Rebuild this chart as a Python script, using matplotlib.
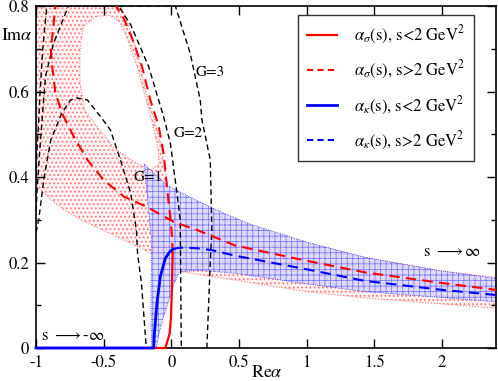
import numpy as np
import matplotlib
matplotlib.use('Agg')
import matplotlib.pyplot as plt
from matplotlib.path import Path
from matplotlib.patches import PathPatch
from matplotlib.lines import Line2D
from matplotlib.ticker import MultipleLocator, FuncFormatter

plt.rcParams['font.family'] = ['STIXGeneral', 'DejaVu Sans']
plt.rcParams['mathtext.fontset'] = 'stix'
plt.rcParams['axes.unicode_minus'] = False

# ---------------- data ----------------
# alpha_sigma, s < 2 GeV^2 (solid red)
sig_lo_re = [-1.0, -0.044, -0.012, -0.002, 0.005, 0.010]
sig_lo_im = [0.0, 0.0, 0.034, 0.073, 0.143, 0.221]
# alpha_sigma, s > 2 GeV^2 (dashed red)
sig_hi_re = [0.010, 0.005, -0.005, -0.027, -0.057, -0.094, -0.155, -0.216, -0.29, -0.35, -0.41,
             -0.62, -0.80, -0.856, -0.89, -0.88, -0.856, -0.807, -0.72, -0.62, -0.50, -0.35, -0.18,
             0.017, 0.19, 0.47, 0.97, 1.43, 2.0, 2.4]
sig_hi_im = [0.221, 0.26, 0.30, 0.362, 0.455, 0.52, 0.58, 0.658, 0.725, 0.77, 0.80,
             0.95, 0.95, 0.80, 0.70, 0.658, 0.596, 0.549, 0.494, 0.44, 0.393, 0.354, 0.33,
             0.295, 0.276, 0.240, 0.206, 0.177, 0.152, 0.136]
# alpha_kappa, s < 2 GeV^2 (solid blue)
kap_lo_re = [-1.0, -0.13, -0.125, -0.106, -0.081, -0.044, -0.012, 0.012]
kap_lo_im = [0.0, 0.0, 0.034, 0.105, 0.167, 0.21, 0.225, 0.231]
# alpha_kappa, s > 2 GeV^2 (dashed blue)
kap_hi_re = [0.012, 0.05, 0.10, 0.20, 0.30, 0.47, 0.97, 1.43, 2.0, 2.4]
kap_hi_im = [0.231, 0.234, 0.235, 0.233, 0.229, 0.216, 0.186, 0.157, 0.136, 0.124]

# red (alpha_sigma) uncertainty band: outer boundary and inner hole
sig_band_re = [-1.0, -1.0, -0.37, -0.31, -0.25, -0.19, -0.13, -0.08, -0.04, -0.01, 0.005,
               0.2, 0.47, 1.0, 1.43, 2.0, 2.4, 2.4, 2.0, 1.43, 1.0, 0.47, 0.2, 0.05,
               -0.05, -0.155, -0.3, -0.5, -0.67, -0.8, -0.9]
sig_band_im = [0.38, 0.80, 0.80, 0.75, 0.69, 0.60, 0.54, 0.48, 0.41, 0.34, 0.323,
               0.33, 0.295, 0.245, 0.212, 0.18, 0.165, 0.093, 0.103, 0.117, 0.132, 0.159, 0.172, 0.18,
               0.20, 0.222, 0.245, 0.275, 0.30, 0.325, 0.35]
sig_hole_re = [-0.55, -0.45, -0.38, -0.32, -0.25, -0.19, -0.135, -0.10, -0.09, -0.155, -0.30,
               -0.43, -0.55, -0.64, -0.675, -0.675, -0.65]
sig_hole_im = [0.776, 0.778, 0.762, 0.72, 0.655, 0.585, 0.52, 0.47, 0.43, 0.416, 0.44,
               0.471, 0.518, 0.557, 0.62, 0.697, 0.752]

# blue (alpha_kappa) uncertainty band
kap_band_re = [-0.20, -0.03, 0.19, 0.39, 0.58, 1.0, 1.43, 2.0, 2.4, 2.4, 2.0, 1.43, 1.0, 0.47,
               0.19, 0.06, 0.02, -0.02, -0.06, -0.09, -0.11, -0.145, -0.15, -0.15, -0.145, -0.17]
kap_band_im = [0.43, 0.38, 0.345, 0.315, 0.29, 0.248, 0.212, 0.18, 0.163, 0.108, 0.118, 0.132, 0.15, 0.175,
               0.182, 0.178, 0.15, 0.11, 0.07, 0.035, 0.0, 0.0, 0.05, 0.15, 0.25, 0.33]

# contours G = 1, 2, 3 (black dashed)
g1_re = [-1.0, -0.98, -0.94, -0.89, -0.81, -0.745, -0.70, -0.62, -0.52, -0.45, -0.376, -0.30, -0.258, -0.249, -0.22, -0.185]
g1_im = [0.27, 0.30, 0.40, 0.487, 0.549, 0.58, 0.585, 0.58, 0.54, 0.51, 0.44, 0.362, 0.276, 0.22, 0.15, 0.0]
g2_re = [-1.0, -0.99, -0.975, -0.955, -0.93, -0.87, -0.76, -0.76, -0.39, -0.30, -0.167, -0.057, -0.007, 0.042, 0.066, 0.074]
g2_im = [0.32, 0.38, 0.45, 0.533, 0.635, 0.713, 0.80, 0.80, 0.80, 0.756, 0.658, 0.541, 0.479, 0.362, 0.30, 0.0]
g3_re = [-1.0, -0.995, -0.98, -0.97, -0.95, -0.92, 0.03, 0.14, 0.214, 0.227, 0.288, 0.30, 0.288, 0.263]
g3_im = [0.40, 0.45, 0.533, 0.60, 0.70, 0.80, 0.80, 0.689, 0.58, 0.533, 0.44, 0.276, 0.20, 0.0]

x_ticks = [-1, -0.5, 0, 0.5, 1, 1.5, 2]
y_ticks = [0, 0.2, 0.4, 0.6, 0.8]

legend_labels = [r'$\alpha_\sigma$(s), s<2 GeV$^2$', r'$\alpha_\sigma$(s), s>2 GeV$^2$',
                 r'$\alpha_\kappa$(s), s<2 GeV$^2$', r'$\alpha_\kappa$(s), s>2 GeV$^2$']

# ---------------- figure ----------------
fig = plt.figure(figsize=(4.98, 3.81), dpi=100)
ax = fig.add_axes([36 / 498, 1 - 348 / 381, 460 / 498, 342 / 381])
ax.set_xlim(-1, 2.4)
ax.set_ylim(0, 0.8)

red = '#ff0000'
blue = '#0000ff'
pink = '#ff7a7a'

# red band with hole
outer = list(zip(sig_band_re, sig_band_im))
hole = list(zip(sig_hole_re, sig_hole_im))[::-1]
verts = outer + [outer[0]] + hole + [hole[0]]
codes = ([Path.MOVETO] + [Path.LINETO] * (len(outer) - 1) + [Path.CLOSEPOLY] +
         [Path.MOVETO] + [Path.LINETO] * (len(hole) - 1) + [Path.CLOSEPOLY])
plt.rcParams['hatch.linewidth'] = 0.8
rp = PathPatch(Path(verts, codes), facecolor='#fff2f2', edgecolor=pink, hatch='....', lw=0, zorder=1)
ax.add_patch(rp)
ax.plot(sig_band_re + [sig_band_re[0]], sig_band_im + [sig_band_im[0]], ':', color=pink, lw=0.8, zorder=1.5)
ax.plot(sig_hole_re + [sig_hole_re[0]], sig_hole_im + [sig_hole_im[0]], ':', color=pink, lw=0.8, zorder=1.5)

# blue band
plt.rcParams['hatch.linewidth'] = 0.5
bverts = list(zip(kap_band_re, kap_band_im))
bp = PathPatch(Path(bverts + [bverts[0]], [Path.MOVETO] + [Path.LINETO] * (len(bverts) - 1) + [Path.CLOSEPOLY]),
               facecolor='#d8d8ff', edgecolor='#5555ff', hatch='+++', lw=0, alpha=0.8, zorder=2)
ax.add_patch(bp)
ax.plot(kap_band_re + [kap_band_re[0]], kap_band_im + [kap_band_im[0]], ':', color=blue, lw=0.5, zorder=2.5)

# contours
for gx, gy in [(g1_re, g1_im), (g2_re, g2_im), (g3_re, g3_im)]:
    ax.plot(gx, gy, color='black', lw=1.0, dashes=(4, 2.5), zorder=3)
ax.text(-0.28, 0.40, 'G=1', fontsize=11, va='center', ha='left', zorder=2.6)
ax.text(0.015, 0.503, 'G=2', fontsize=11, va='center', ha='left', zorder=3)
ax.text(0.18, 0.646, 'G=3', fontsize=11, va='center', ha='left', zorder=3)

# trajectories
ax.plot(sig_lo_re, sig_lo_im, color=red, lw=1.6, zorder=4, clip_on=False)
ax.plot(sig_hi_re, sig_hi_im, color=red, lw=1.5, dashes=(5, 3), zorder=4)
ax.plot(kap_lo_re, kap_lo_im, color=blue, lw=2.0, zorder=4.5, clip_on=False)
ax.plot(kap_hi_re, kap_hi_im, color=blue, lw=1.5, dashes=(5, 3), zorder=4.5)

ax.text(-0.965, 0.027, r's $\longrightarrow$-$\infty$', fontsize=12, va='center', ha='left', zorder=5)
ax.text(1.86, 0.225, r's $\longrightarrow\infty$', fontsize=12, va='center', ha='left', zorder=5)

# axes styling
ax.yaxis.set_minor_locator(MultipleLocator(0.1))
ax.set_xticks(x_ticks)
ax.set_yticks(y_ticks)
fmt = FuncFormatter(lambda v, p: '%g' % v)
ax.xaxis.set_major_formatter(fmt)
ax.yaxis.set_major_formatter(fmt)
ax.tick_params(which='both', direction='in', top=True, right=True, labelsize=12, width=1.0)
ax.tick_params(which='major', length=6.5, pad=5)
ax.tick_params(which='minor', length=3.5)
for s in ax.spines.values():
    s.set_linewidth(1.2)

fig.text(17 / 498, 1 - 36 / 381, r'Im$\alpha$', fontsize=13, ha='center', va='center')
fig.text(267 / 498, 1 - 373 / 381, r'Re$\alpha$', fontsize=13, ha='center', va='center')

handles = [Line2D([], [], color=red, lw=1.6),
           Line2D([], [], color=red, lw=1.5, dashes=(3, 2)),
           Line2D([], [], color=blue, lw=2.0),
           Line2D([], [], color=blue, lw=1.5, dashes=(3, 2))]
leg = ax.legend(handles, legend_labels, loc='upper left', bbox_to_anchor=((298 - 36) / 460, 1 - 9 / 342),
                fontsize=12, frameon=True, fancybox=False, edgecolor='#333333', framealpha=1,
                handlelength=1.8, handletextpad=1.0, labelspacing=0.78, borderpad=0.55, borderaxespad=0)
leg.get_frame().set_linewidth(1.0)
leg.set_zorder(10)

fig.savefig('out.png', dpi=100)
